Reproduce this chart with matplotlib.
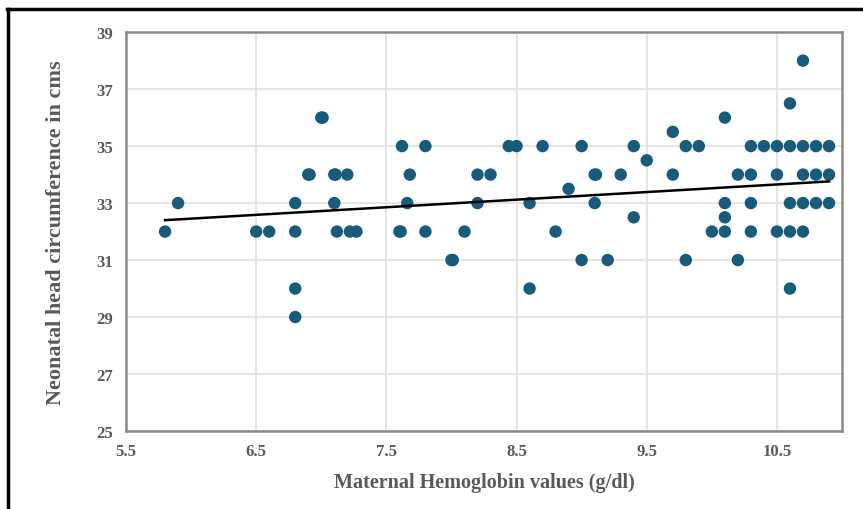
import numpy as np
import matplotlib
matplotlib.use("Agg")
import matplotlib.pyplot as plt
from matplotlib.lines import Line2D

# ── DATA ──────────────────────────────────────────────────────────────────────
hb = [5.8, 5.9, 6.5, 6.6, 6.8, 6.8, 6.8, 6.8, 6.9, 6.91, 7.0, 7.01,
      7.1, 7.11, 7.2, 7.1, 7.12, 7.22, 7.27, 7.6, 7.61, 7.62, 7.68, 7.66,
      7.8, 7.8, 8.0, 8.01, 8.1, 8.2, 8.2, 8.3, 8.44, 8.5, 8.7, 8.6, 8.6,
      8.8, 8.9, 9.0, 9.0, 9.1, 9.11, 9.1, 9.2, 9.3, 9.4, 9.4, 9.5, 9.7,
      9.7, 9.8, 9.9, 9.8, 10.0, 10.1, 10.1, 10.1, 10.1, 10.2, 10.2,
      10.3, 10.3, 10.3, 10.3, 10.4, 10.5, 10.5, 10.5, 10.6, 10.6, 10.6,
      10.6, 10.6, 10.7, 10.7, 10.7, 10.7, 10.7, 10.8, 10.8, 10.8,
      10.9, 10.9, 10.9]
hc = [32, 33, 32, 32, 33, 32, 30, 29, 34, 34, 36, 36,
      34, 34, 34, 33, 32, 32, 32, 32, 32, 35, 34, 33,
      35, 32, 31, 31, 32, 34, 33, 34, 35, 35, 35, 33, 30,
      32, 33.5, 35, 31, 34, 34, 33, 31, 34, 35, 32.5, 34.5, 35.5,
      34, 35, 35, 31, 32, 36, 33, 32.5, 32, 34, 31,
      35, 34, 33, 32, 35, 35, 34, 32, 36.5, 35, 33,
      32, 30, 38, 35, 34, 33, 32, 35, 34, 33,
      35, 34, 33]

trend_x = [5.8, 10.9]
trend_y = [32.4, 33.76]

x_ticks = [5.5, 6.5, 7.5, 8.5, 9.5, 10.5]
y_ticks = [25, 27, 29, 31, 33, 35, 37, 39]

DOT = "#175b7d"
GREY_TXT = "#595959"
SERIF = ["Liberation Serif", "DejaVu Serif"]

# ── FIGURE ────────────────────────────────────────────────────────────────────
fig = plt.figure(figsize=(8.63, 5.10), dpi=100)
ax = fig.add_axes([0.146, 0.153, 0.9757 - 0.146, 0.935 - 0.153])

ax.set_xlim(5.5, 11.0)
ax.set_ylim(25, 39)
ax.set_xticks(x_ticks)
ax.set_yticks(y_ticks)
ax.set_xticklabels([f"{v:g}" for v in x_ticks])
ax.set_yticklabels([str(v) for v in y_ticks])
ax.grid(True, color="#e3e3e3", lw=1.3)
ax.set_axisbelow(True)
ax.tick_params(length=0, labelsize=12, labelcolor=GREY_TXT)
ax.tick_params(axis="y", pad=9)
ax.tick_params(axis="x", pad=9)
for lab in ax.get_xticklabels() + ax.get_yticklabels():
    lab.set_family(SERIF); lab.set_fontweight("bold")
for sp in ax.spines.values():
    sp.set_edgecolor("#8a8a8a"); sp.set_linewidth(1.8)

ax.scatter(hb, hc, s=80, color=DOT, edgecolors="none", zorder=3)
ax.plot(trend_x, trend_y, color="black", lw=1.8, zorder=4)

ax.set_xlabel("Maternal Hemoglobin values (g/dl)", family=SERIF,
              fontweight="bold", fontsize=14.5, color=GREY_TXT, labelpad=9)
ax.set_ylabel("Neonatal head circumference in cms", family=SERIF,
              fontweight="bold", fontsize=16, color=GREY_TXT, labelpad=22)

# outer black frame (left + top)
fig.add_artist(Line2D([0.009, 0.009], [0.0, 0.981], color="black", lw=2.5))
fig.add_artist(Line2D([0.008, 1.0], [0.981, 0.981], color="black", lw=2.5))

fig.savefig("out.png", dpi=100)
